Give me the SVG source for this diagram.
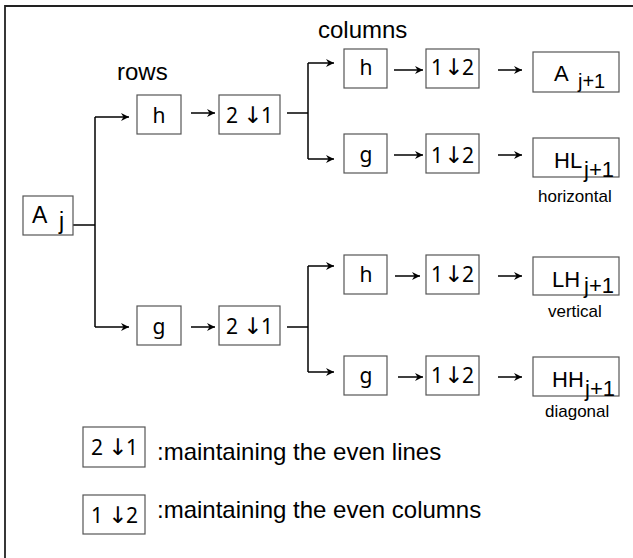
<svg xmlns="http://www.w3.org/2000/svg" width="633" height="558" viewBox="0 0 633 558">
  <defs>
    <marker id="arr" markerUnits="userSpaceOnUse" markerWidth="9" markerHeight="8" refX="8" refY="4" orient="auto">
      <path d="M0,0 L8,4 L0,8 L2.5,4 z" fill="#000"/>
    </marker>
    <style>
      .box { fill: #fff; stroke: #555; stroke-width: 1.2; }
      .wire { fill: none; stroke: #000; stroke-width: 1.5; }
      .go { marker-end: url(#arr); }
      .lbl { font-family: "Liberation Sans", Arial, sans-serif; fill: #000; }
      .op { font-family: "Noto Sans", "Open Sans", sans-serif; font-size: 21px; fill: #000; }
      .dn { font-family: "DejaVu Sans", sans-serif; font-size: 23px; fill: #000; }
      .big { font-size: 24px; }
      .res { font-size: 22px; }
      .sub { font-size: 20px; }
      .note { font-size: 17px; }
    </style>
  </defs>

  <rect width="633" height="558" fill="#fff"/>
  <!-- outer frame (left and top edges) -->
  <path d="M5,558 V6 H633" fill="none" stroke="#222" stroke-width="1.8"/>

  <!-- section titles -->
  <text class="lbl big" x="117" y="80">rows</text>
  <text class="lbl big" x="318" y="38">columns</text>

  <!-- connectors -->
  <g id="connectors">
    <path class="wire" d="M73,225 H95"/>
    <path class="wire" d="M95,117 V327"/>
    <path class="wire go" d="M95,117 H129"/>
    <path class="wire go" d="M95,327 H129"/>
    <path class="wire go" d="M191,113 H215"/>
    <path class="wire go" d="M191,327 H215"/>
    <path class="wire" d="M287,113 H308"/>
    <path class="wire" d="M287,327 H308"/>
    <path class="wire" d="M308,63 V159"/>
    <path class="wire" d="M308,266 V372"/>
    <path class="wire go" d="M308,63 H334"/>
    <path class="wire go" d="M308,159 H334"/>
    <path class="wire go" d="M308,266 H334"/>
    <path class="wire go" d="M308,372 H334"/>
    <path class="wire go" d="M394,70 H423"/>
    <path class="wire go" d="M394,155 H423"/>
    <path class="wire go" d="M395,276 H420"/>
    <path class="wire go" d="M398,377 H423"/>
    <path class="wire go" d="M498,70 H522"/>
    <path class="wire go" d="M498,155 H522"/>
    <path class="wire go" d="M498,276 H522"/>
    <path class="wire go" d="M498,377 H522"/>
  </g>

  <!-- input -->
  <g id="a-j">
    <rect class="box" x="23" y="196" width="50" height="39"/>
    <text class="lbl" x="32" y="223" font-size="23">A<tspan x="59" y="229">j</tspan></text>
  </g>

  <!-- row filtering -->
  <g id="row-h">
    <rect class="box" x="137" y="95" width="44" height="39"/>
    <text class="op" x="159" y="123" text-anchor="middle">h</text>
  </g>
  <g id="row-h-down">
    <rect class="box" x="219" y="95" width="61" height="39"/>
    <text class="op" y="123"><tspan x="226">2</tspan><tspan class="dn" x="243" y="123">↓</tspan><tspan x="261" y="123">1</tspan></text>
  </g>
  <g id="row-g">
    <rect class="box" x="137" y="306" width="44" height="39"/>
    <text class="op" x="159" y="334" text-anchor="middle">g</text>
  </g>
  <g id="row-g-down">
    <rect class="box" x="219" y="306" width="61" height="39"/>
    <text class="op" y="334"><tspan x="226">2</tspan><tspan class="dn" x="243" y="334">↓</tspan><tspan x="261" y="334">1</tspan></text>
  </g>

  <!-- column filtering, branch 1 -->
  <g id="col-hh">
    <rect class="box" x="344" y="49" width="43" height="39"/>
    <text class="op" x="366" y="75" text-anchor="middle">h</text>
  </g>
  <g id="col-hh-down">
    <rect class="box" x="426" y="49" width="53" height="39"/>
    <text class="op" y="75"><tspan x="431">1</tspan><tspan class="dn" x="444" y="75">↓</tspan><tspan x="462" y="75">2</tspan></text>
  </g>
  <g id="out-a">
    <rect class="box" x="533" y="52" width="86" height="40"/>
    <text class="lbl res" x="554" y="81">A<tspan class="sub" x="578" y="88">j+1</tspan></text>
  </g>

  <g id="col-hg">
    <rect class="box" x="344" y="134" width="43" height="39"/>
    <text class="op" x="366" y="162" text-anchor="middle">g</text>
  </g>
  <g id="col-hg-down">
    <rect class="box" x="426" y="134" width="53" height="39"/>
    <text class="op" y="163"><tspan x="431">1</tspan><tspan class="dn" x="444" y="163">↓</tspan><tspan x="462" y="163">2</tspan></text>
  </g>
  <g id="out-hl">
    <rect class="box" x="533" y="138" width="86" height="39"/>
    <text class="lbl res" x="554" y="168">HL<tspan class="res" x="584" y="177">j+1</tspan></text>
    <text class="lbl note" x="538" y="202">horizontal</text>
  </g>

  <!-- column filtering, branch 2 -->
  <g id="col-gh">
    <rect class="box" x="344" y="255" width="43" height="39"/>
    <text class="op" x="366" y="282" text-anchor="middle">h</text>
  </g>
  <g id="col-gh-down">
    <rect class="box" x="426" y="255" width="53" height="39"/>
    <text class="op" y="282"><tspan x="431">1</tspan><tspan class="dn" x="444" y="282">↓</tspan><tspan x="462" y="282">2</tspan></text>
  </g>
  <g id="out-lh">
    <rect class="box" x="533" y="257" width="86" height="38"/>
    <text class="lbl res" x="552" y="287">LH<tspan class="res" x="584" y="293">j+1</tspan></text>
    <text class="lbl note" x="548" y="317">vertical</text>
  </g>

  <g id="col-gg">
    <rect class="box" x="344" y="356" width="43" height="39"/>
    <text class="op" x="366" y="383" text-anchor="middle">g</text>
  </g>
  <g id="col-gg-down">
    <rect class="box" x="426" y="356" width="53" height="39"/>
    <text class="op" y="383"><tspan x="431">1</tspan><tspan class="dn" x="444" y="383">↓</tspan><tspan x="462" y="383">2</tspan></text>
  </g>
  <g id="out-hh">
    <rect class="box" x="533" y="357" width="86" height="39"/>
    <text class="lbl res" x="552" y="387">HH<tspan class="res" x="585" y="396">j+1</tspan></text>
    <text class="lbl note" x="545" y="417">diagonal</text>
  </g>

  <!-- legend -->
  <g id="legend-rows">
    <rect class="box" x="83" y="427" width="62" height="40"/>
    <text class="op" y="455"><tspan x="91">2</tspan><tspan class="dn" x="108" y="455">↓</tspan><tspan x="126" y="455">1</tspan></text>
    <text class="lbl big" x="157" y="460">:maintaining the even lines</text>
  </g>
  <g id="legend-cols">
    <rect class="box" x="83" y="495" width="62" height="39"/>
    <text class="op" y="523"><tspan x="91">1</tspan><tspan class="dn" x="108" y="523">↓</tspan><tspan x="126" y="523">2</tspan></text>
    <text class="lbl big" x="157" y="518">:maintaining the even columns</text>
  </g>
</svg>
